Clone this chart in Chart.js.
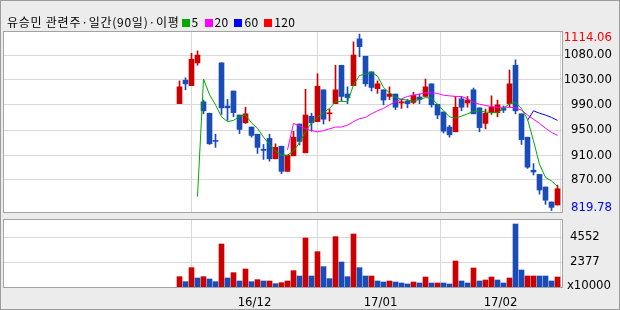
<!DOCTYPE html>
<html>
<head>
<meta charset="utf-8">
<script src="https://cdn.jsdelivr.net/npm/chart.js@4.4.1/dist/chart.umd.min.js"></script>
<style>
  html, body { margin: 0; padding: 0; background: #ececec; }
  #wrap { position: relative; width: 620px; height: 310px; overflow: hidden; }
  #edge { position: absolute; left: 0; top: 0; width: 618px; height: 308px; border: 1px solid #9c9c9c; pointer-events: none; }
  canvas { position: absolute; left: 0; top: 0; }
  #title { position: absolute; left: 7px; top: 13px; font: 12px 'Noto Sans CJK KR', sans-serif; letter-spacing: 0.75px; color: #000; white-space: nowrap; }
  .sq { display: inline-block; width: 8px; height: 8px; margin: 0 2px 0 2px; }
  .num { margin-right: 4px; letter-spacing: 0.3px; }
</style>
</head>
<body>
<div id="wrap">
  <canvas id="price" width="620" height="310"></canvas>
  <canvas id="vol" width="620" height="310"></canvas>
  <div id="title">유승민 관련주·일간(90일)·이평<span class="sq" style="background:#00a800"></span><span class="num">5</span><span class="sq" style="background:#ff00ff"></span><span class="num">20</span><span class="sq" style="background:#0000ff"></span><span class="num">60</span><span class="sq" style="background:#ff0000"></span><span class="num">120</span></div>
  <div id="edge"></div>
</div>
<script>
// daily candles, 2016-11-14 .. 2017-02-14 (index 0..63)
const opens  = [998,1037,1028,1066,1001,982,936,1066,994,1019,979,966,959,947,922,940,906,927,885,911,964,916,977,968,1021,981,998,1062,1014,1028,1106,1077,1051,1023,1021,1010,1014,999,1002,1000,1009,1010,1031,997,984,959,951,1006,999,1021,991,965,983,983,990,998,1062,981,942,887,880,859,834,829];
const highs  = [1036,1041,1082,1086,1004,982,947,1066,1005,1019,979,992,959,947,930,947,931,927,912,952,964,1022,982,1048,1021,989,1062,1062,1026,1101,1114.06,1077,1051,1036,1021,1026,1014,1005,1005,1017,1014,1039,1031,997,984,962,1010,1010,1010,1024,991,989,1011,1004,994,1054,1071,981,942,898,880,859,834,862];
const lows   = [998,1021,1028,1062,981,930,925,980,970,976,948,965,942,915,905,902,906,881,885,911,929,916,952,968,964,969,998,1002,998,1028,1076,1027,1019,1015,996,1005,988,990,991,998,998,1010,992,973,949,942,951,986,992,981,951,956,980,976,983,992,981,930,890,879,847,830,819.78,829];
const closes = [1026,1031,1072,1079,986,931,935,991,991,983,955,981,945,925,920,906,925,885,912,942,935,979,966,1027,972,982,1021,1010,1008,1079,1093,1031,1025,1031,1004,1014,992,1001,998,1012,1005,1026,996,979,952,946,992,992,1004,981,958,982,992,996,987,1031,986,938,892,884,854,837,825,856];
// volume, x10000 shares, and bar colour as shown (1 = red, 0 = blue)
const volumes = [1101,666,1884,985,1101,898,666,3943,985,1449,724,1768,666,840,724,724,492,579,724,1623,1159,4465,1159,3276,1971,927,4581,2377,1101,4813,1884,1159,1159,724,637,724,637,550,463,637,550,1072,550,550,550,463,2464,724,550,1855,724,811,1072,811,550,985,5683,1681,1159,1159,1159,1159,724,1072];
const volUp = [1,0,1,0,1,0,0,1,0,1,0,1,0,1,0,1,0,1,1,1,0,1,0,1,0,0,1,0,0,1,0,0,
               1,0,0,1,0,0,0,1,0,1,0,1,0,0,1,0,0,1,0,1,1,0,0,1,0,0,1,1,0,0,0,1];
// moving averages (null = not drawn)
const ma5 = [null,null,null,843,1039,1013,996,976,968,970,977,979,966,957,942,930,919,912,912,919,933,951,966,975,983,990,1001,1002,1001,1029,1045,1047,1050,1044,1025,1016,1009,1005,1004,1002,1005,1008,1007,997,986,976,974,977,981,985,986,984,983,983,990,998,1000,990,972,936,897,875,869,860];
const ma20 = [null,null,null,null,null,null,null,null,null,null,null,null,null,null,null,null,null,null,921,965,961,956,953,951,953,956,959,959,962,968,973,975,981,986,990,996,1001,1006,1010,1012,1014,1016,1016,1015,1012,1011,1010,1010,1006,1000,997,995,993,992,992,992,991,987,979,972,965,957,950,945];
const ma60 = [null,null,null,null,null,null,null,null,null,null,null,null,null,null,null,null,null,null,null,null,null,null,null,null,null,null,null,null,null,null,null,null,null,null,null,null,null,null,null,null,null,null,null,null,null,null,null,null,null,null,null,null,null,null,null,null,null,null,970,986,982,979,975,970];
// first trading day of each month (index) and its label
const monthStarts = [13, 34, 54];
const monthLabels = ['16/12', '17/01', '17/02'];
// right axis ticks
const priceTickValues = [1079, 1038, 996, 954, 912, 871];
const priceTickLabels = ['1080.00', '1030.00', '990.00', '950.00', '910.00', '870.00'];
const priceHiLabel = '1114.06';
const priceLoLabel = '819.78';
const volTickValues = [2377, 4552];
const volTickLabels = ['2377', '4552'];
const volUnitLabel = 'x10000';

const RED = '#cc0000', BLUE = '#1a4cb8', GRID = '#d9d9d9', FRAME = '#a3a3a3';
const FONT_FAMILY = "'Liberation Sans Narrow', 'DejaVu Sans Condensed', sans-serif";
const AX_FONT = { family: FONT_FAMILY, size: 13 };
const idx = opens.map((_, i) => i);
const upColor = idx.map(i => closes[i] >= opens[i] ? RED : BLUE);
const volColor = volUp.map(u => u ? RED : BLUE);

const X_MIN = -29.4167, X_MAX = 63.9167;

const panel = {
  id: 'panel',
  beforeDraw(chart) {
    const a = chart.chartArea, c = chart.ctx;
    c.save(); c.fillStyle = '#fff'; c.fillRect(a.left, a.top, a.right - a.left, a.bottom - a.top); c.restore();
  },
  afterDraw(chart) {
    const a = chart.chartArea, c = chart.ctx;
    c.save(); c.strokeStyle = FRAME; c.lineWidth = 1;
    c.strokeRect(a.left + 0.5, a.top + 0.5, a.right - a.left - 1, a.bottom - a.top);
    c.restore();
  }
};

const hiLo = {
  id: 'hiLo',
  afterDraw(chart) {
    const y = chart.scales.y, c = chart.ctx;
    c.save();
    c.font = '13px ' + FONT_FAMILY;
    c.textAlign = 'right'; c.textBaseline = 'middle';
    c.fillStyle = '#ff0000'; c.fillText(priceHiLabel, 612, y.getPixelForValue(1114.06) + 4);
    c.fillStyle = '#0000ff'; c.fillText(priceLoLabel, 612, y.getPixelForValue(819.78) - 3);
    c.restore();
  }
};

const unitLabel = {
  id: 'unitLabel',
  afterDraw(chart) {
    const c = chart.ctx;
    c.save();
    c.font = '13px ' + FONT_FAMILY;
    c.textAlign = 'right'; c.textBaseline = 'middle'; c.fillStyle = '#000';
    c.fillText(volUnitLabel, 611, chart.chartArea.bottom - 1);
    c.restore();
  }
};

const monthGrid = s => { s.ticks = monthStarts.map(v => ({ value: v - 0.5 })); };

new Chart(document.getElementById('price'), {
  type: 'bar',
  data: {
    datasets: [
      { type: 'line', data: idx.map(i => ({ x: i, y: ma5[i] })), borderColor: '#00a800', borderWidth: 1, pointRadius: 0, order: 0 },
      { type: 'line', data: idx.map(i => ({ x: i, y: ma20[i] })), borderColor: '#ff00ff', borderWidth: 1, pointRadius: 0, order: 0 },
      { type: 'line', data: idx.map(i => ({ x: i, y: ma60[i] })), borderColor: '#0000ff', borderWidth: 1, pointRadius: 0, order: 0 },
      { data: idx.map(i => ({ x: i, y: [lows[i], highs[i]] })), backgroundColor: upColor, barThickness: 1, grouped: false, order: 2 },
      { data: idx.map(i => ({ x: i, y: [opens[i], closes[i]] })), backgroundColor: upColor, barThickness: 5, minBarLength: 1, grouped: false, order: 1 }
    ]
  },
  options: {
    responsive: false,
    animation: false,
    events: [],
    layout: { padding: { left: 3, right: 8, top: 31, bottom: 98 } },
    plugins: { legend: { display: false }, tooltip: { enabled: false } },
    scales: {
      x: {
        type: 'linear', min: X_MIN, max: X_MAX, offset: false,
        grid: { color: GRID, drawTicks: false }, border: { display: false },
        ticks: { display: false },
        afterBuildTicks: monthGrid,
        afterFit: s => { s.height = 0; }
      },
      y: {
        position: 'right', min: 817.3, max: 1119.1,
        grid: { color: GRID, drawTicks: false }, border: { display: false },
        afterBuildTicks: s => { s.ticks = priceTickValues.map(v => ({ value: v })); },
        ticks: { autoSkip: false, callback: (v, i) => priceTickLabels[i], font: AX_FONT, color: '#000', crossAlign: 'far', padding: 8 },
        afterFit: s => { s.width = 49; }
      }
    }
  },
  plugins: [panel, hiLo]
});

new Chart(document.getElementById('vol'), {
  type: 'bar',
  data: {
    datasets: [
      { data: idx.map(i => ({ x: i, y: volumes[i] })), backgroundColor: volColor, barThickness: 5, grouped: false }
    ]
  },
  options: {
    responsive: false,
    animation: false,
    events: [],
    layout: { padding: { left: 3, right: 8, top: 219, bottom: 0 } },
    plugins: { legend: { display: false }, tooltip: { enabled: false } },
    scales: {
      x: {
        type: 'linear', min: X_MIN, max: X_MAX, offset: false,
        grid: { color: GRID, drawTicks: false }, border: { display: false },
        afterBuildTicks: monthGrid,
        ticks: { autoSkip: false, maxRotation: 0, callback: (v, i) => monthLabels[i], font: AX_FONT, color: '#000', padding: 8 },
        afterFit: s => { s.height = 23; }
      },
      y: {
        position: 'right', min: 202, max: 6118,
        grid: { color: GRID, drawTicks: false }, border: { display: false },
        afterBuildTicks: s => { s.ticks = volTickValues.map(v => ({ value: v })); },
        ticks: { autoSkip: false, callback: (v, i) => volTickLabels[i], font: AX_FONT, color: '#000', crossAlign: 'near', padding: 7 },
        afterFit: s => { s.width = 49; }
      }
    }
  },
  plugins: [panel, unitLabel]
});
</script>
</body>
</html>
